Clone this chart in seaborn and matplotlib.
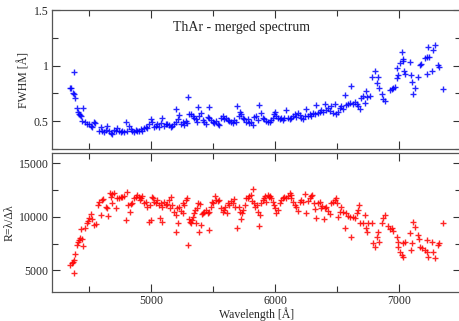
import matplotlib
matplotlib.use("Agg")
import matplotlib.pyplot as plt
from matplotlib.ticker import MultipleLocator, FuncFormatter
import seaborn as sns

# FWHM of ThAr lines (top panel)
fwhm_wave = [4349, 4357, 4376, 4370, 4378, 4384, 4403, 4411, 4416, 4424, 4432, 4438, 4454, 4470,
             4484, 4497, 4511, 4524, 4535, 4546, 4578, 4592, 4605, 4619, 4632, 4646, 4659, 4673,
             4686, 4700, 4713, 4727, 4740, 4753, 4767, 4780, 4794, 4807, 4821, 4834, 4848, 4861,
             4875, 4888, 4902, 4915, 4929, 4942, 4956, 4969, 4983, 4996, 5010, 5023, 5037, 5050,
             5064, 5077, 5091, 5104, 5118, 5131, 5145, 5158, 5172, 5185, 5199, 5204, 5220, 5226,
             5239, 5253, 5266, 5280, 5293, 5299, 5307, 5320, 5334, 5347, 5361, 5374, 5382, 5388,
             5401, 5415, 5428, 5442, 5455, 5463, 5469, 5482, 5496, 5509, 5523, 5536, 5550, 5563,
             5577, 5590, 5604, 5617, 5631, 5644, 5658, 5671, 5685, 5693, 5706, 5717, 5725, 5739,
             5752, 5766, 5779, 5793, 5806, 5820, 5833, 5847, 5860, 5874, 5887, 5901, 5914, 5928,
             5941, 5955, 5968, 5982, 5995, 6003, 6009, 6022, 6036, 6049, 6063, 6076, 6090, 6103,
             6117, 6130, 6144, 6157, 6171, 6184, 6198, 6211, 6225, 6238, 6246, 6265, 6279, 6292,
             6306, 6319, 6333, 6346, 6360, 6373, 6387, 6400, 6414, 6427, 6441, 6454, 6468, 6481,
             6495, 6508, 6522, 6535, 6549, 6562, 6576, 6589, 6603, 6616, 6630, 6643, 6657, 6670,
             6684, 6697, 6711, 6724, 6732, 6738, 6765, 6786, 6805, 6819, 6832, 6841, 6859, 6873,
             6886, 6927, 6940, 6954, 6967, 6981, 6986, 6994, 7008, 7021, 7029, 7034, 7040, 7048,
             7088, 7094, 7102, 7110, 7129, 7156, 7169, 7175, 7210, 7223, 7237, 7245, 7229, 7264,
             7277, 7291, 7318, 7326, 7353]
fwhm_vals = [0.801, 0.795, 0.941, 0.756, 0.747, 0.711, 0.616, 0.586, 0.569, 0.557, 0.548, 0.503,
             0.616, 0.497, 0.479, 0.473, 0.458, 0.444, 0.497, 0.488, 0.414, 0.452, 0.408, 0.399,
             0.420, 0.458, 0.414, 0.390, 0.384, 0.423, 0.408, 0.435, 0.408, 0.399, 0.414, 0.405,
             0.497, 0.414, 0.458, 0.429, 0.414, 0.405, 0.423, 0.414, 0.408, 0.429, 0.414, 0.435,
             0.449, 0.438, 0.473, 0.518, 0.497, 0.444, 0.458, 0.473, 0.449, 0.488, 0.533, 0.458,
             0.479, 0.473, 0.467, 0.449, 0.458, 0.479, 0.497, 0.607, 0.518, 0.554, 0.479, 0.497,
             0.467, 0.503, 0.488, 0.720, 0.563, 0.569, 0.548, 0.533, 0.518, 0.497, 0.628, 0.548,
             0.578, 0.509, 0.497, 0.479, 0.539, 0.628, 0.527, 0.509, 0.497, 0.488, 0.503, 0.479,
             0.467, 0.533, 0.548, 0.518, 0.533, 0.509, 0.503, 0.497, 0.488, 0.509, 0.497, 0.640,
             0.548, 0.586, 0.563, 0.533, 0.518, 0.497, 0.518, 0.488, 0.497, 0.467, 0.539, 0.548,
             0.509, 0.646, 0.578, 0.533, 0.518, 0.503, 0.497, 0.497, 0.509, 0.533, 0.563, 0.586,
             0.548, 0.527, 0.518, 0.533, 0.509, 0.527, 0.598, 0.533, 0.518, 0.527, 0.548, 0.563,
             0.539, 0.578, 0.557, 0.533, 0.518, 0.548, 0.607, 0.548, 0.563, 0.548, 0.578, 0.563,
             0.646, 0.578, 0.586, 0.598, 0.586, 0.658, 0.598, 0.616, 0.592, 0.637, 0.578, 0.652,
             0.569, 0.586, 0.622, 0.637, 0.607, 0.735, 0.646, 0.658, 0.667, 0.815, 0.658, 0.676,
             0.652, 0.637, 0.607, 0.711, 0.726, 0.667, 0.771, 0.717, 0.726, 0.896, 0.949, 0.845,
             0.896, 0.795, 0.741, 0.697, 0.682, 0.777, 0.786, 0.801, 0.807, 0.979, 0.890, 0.920,
             1.024, 1.122, 1.063, 1.039, 0.949, 0.926, 1.033, 0.920, 0.854, 0.747, 0.801, 0.896,
             1.009, 1.015, 1.068, 1.074, 1.164, 1.074, 0.926, 0.955, 1.143, 1.188, 1.003, 0.985,
             0.786]

# resolving power (bottom panel)
res_wave = [4349, 4362, 4370, 4376, 4381, 4389, 4403, 4411, 4416, 4424, 4432, 4438, 4451, 4470,
            4484, 4492, 4502, 4511, 4524, 4538, 4551, 4573, 4583, 4592, 4600, 4610, 4632, 4646,
            4654, 4664, 4673, 4681, 4686, 4700, 4713, 4727, 4740, 4753, 4767, 4780, 4794, 4807,
            4816, 4826, 4834, 4848, 4861, 4875, 4888, 4902, 4907, 4915, 4929, 4942, 4956, 4969,
            4983, 4991, 4999, 5010, 5018, 5026, 5037, 5050, 5064, 5069, 5077, 5086, 5091, 5104,
            5118, 5131, 5145, 5150, 5158, 5172, 5185, 5199, 5204, 5212, 5220, 5226, 5239, 5253,
            5258, 5266, 5280, 5293, 5299, 5307, 5312, 5320, 5329, 5334, 5347, 5356, 5361, 5369,
            5377, 5388, 5393, 5401, 5410, 5415, 5428, 5442, 5455, 5463, 5469, 5482, 5491, 5501,
            5512, 5523, 5536, 5550, 5563, 5577, 5590, 5598, 5609, 5617, 5631, 5644, 5658, 5671,
            5679, 5693, 5706, 5717, 5725, 5733, 5744, 5755, 5766, 5779, 5793, 5806, 5815, 5825,
            5833, 5841, 5852, 5863, 5874, 5879, 5887, 5901, 5914, 5922, 5928, 5941, 5950, 5960,
            5968, 5982, 5995, 6003, 6009, 6022, 6036, 6049, 6063, 6076, 6090, 6103, 6117, 6125,
            6130, 6144, 6157, 6171, 6184, 6198, 6211, 6225, 6238, 6252, 6265, 6279, 6292, 6301,
            6311, 6322, 6333, 6346, 6360, 6373, 6382, 6392, 6400, 6414, 6427, 6441, 6454, 6468,
            6481, 6490, 6500, 6508, 6522, 6535, 6549, 6562, 6576, 6589, 6603, 6616, 6630, 6643,
            6657, 6670, 6679, 6689, 6706, 6724, 6733, 6738, 6751, 6779, 6787, 6806, 6824, 6832,
            6841, 6859, 6873, 6886, 6913, 6927, 6940, 6954, 6981, 6988, 6994, 7012, 7021, 7029,
            7034, 7048, 7088, 7094, 7102, 7115, 7129, 7156, 7164, 7169, 7183, 7210, 7223, 7229,
            7237, 7264, 7277, 7291, 7318, 7326, 7353]
res_vals = [5505, 5662, 5817, 4727, 5973, 6534, 7375, 7686, 7842, 7998, 8839, 7904, 7281, 8932,
            9400, 9649, 9867, 10272, 9773, 9244, 9337, 11113, 11424, 10209, 11580, 11642, 10957,
            10801, 10085, 12265, 11891, 11268, 12141, 12265, 10801, 11736, 11736, 11891, 11891,
            11954, 9711, 12328, 11113, 10490, 11206, 11268, 11736, 11891, 12047, 11829, 11580,
            11736, 11954, 11268, 11424, 10957, 9555, 11113, 9711, 11891, 11736, 11424, 11268,
            11580, 11113, 9867, 11268, 9555, 10957, 11424, 11113, 11206, 11580, 10801, 11891,
            11113, 10490, 10178, 8621, 10801, 9462, 10957, 10583, 10334, 11268, 11113, 11580,
            11736, 7375, 9773, 9555, 9462, 9711, 10022, 10334, 10645, 9400, 10801, 11268, 8621,
            11206, 9244, 10272, 10334, 10490, 10645, 10334, 8777, 10490, 10957, 11424, 11268,
            11954, 11580, 11518, 11580, 10801, 10490, 10645, 10957, 10396, 11268, 11113, 11518,
            11331, 11642, 10957, 8932, 10895, 10490, 9773, 10334, 10645, 11113, 11736, 11736,
            11954, 12047, 11518, 12577, 11268, 10957, 11113, 10490, 9150, 10178, 11268, 11580,
            11736, 11954, 11424, 12047, 11891, 11954, 11736, 11424, 11113, 10801, 10334, 10645,
            11331, 11580, 11736, 11891, 11736, 11954, 12203, 12047, 11736, 11424, 11113, 10957,
            10583, 11424, 11580, 11424, 12141, 10334, 11518, 11736, 11954, 12047, 11268, 10708,
            9867, 11268, 11424, 10801, 11019, 9773, 10801, 10957, 10583, 10241, 11268, 11424,
            11580, 11736, 11268, 10022, 10490, 10895, 10490, 8932, 10334, 10085, 9960, 8154,
            10022, 9867, 10334, 10645, 11113, 9400, 9462, 10178, 8932, 8621, 9462, 9462, 7530,
            7219, 8154, 8621, 7686, 9400, 9867, 10178, 9150, 8839, 8932, 8714, 8091, 7686, 7219,
            6752, 6440, 6284, 7530, 7686, 8465, 6908, 7530, 9555, 9088, 8309, 7904, 7157, 7063,
            6908, 7842, 6752, 6222, 7686, 6752, 6129, 7375, 7530, 9400]

x_ticks = [5000, 6000, 7000]

sns.set_style("ticks")
plt.rcParams['font.family'] = ['Liberation Serif', 'DejaVu Serif']
plt.rcParams['font.size'] = 8.5

fig = plt.figure(figsize=(4.59, 3.21), dpi=100)
ax1 = fig.add_axes([0.1133, 0.5358, 0.8910, 0.4330])
ax2 = fig.add_axes([0.1133, 0.0913, 0.8910, 0.4330])

sns.scatterplot(x=fwhm_wave, y=fwhm_vals, marker='+', color='#0000ff', s=22,
                linewidth=1.0, alpha=0.85, ax=ax1)
sns.scatterplot(x=res_wave, y=res_vals, marker='+', color='#ff0000', s=22,
                linewidth=1.0, alpha=0.85, ax=ax2)

ax1.set_ylim(0.25, 1.5)
ax1.yaxis.set_major_locator(MultipleLocator(0.5))
ax1.yaxis.set_minor_locator(MultipleLocator(0.25))
ax1.yaxis.set_major_formatter(FuncFormatter(lambda v, p: '%g' % v))
ax1.set_ylabel('FWHM [Å]', labelpad=2)
ax1.tick_params(axis='x', labelbottom=False)
ax1.text(0.296, 0.85, 'ThAr - merged spectrum', transform=ax1.transAxes,
         fontsize=10, va='baseline', ha='left')

ax2.set_ylim(3000, 16000)
ax2.yaxis.set_major_locator(MultipleLocator(5000))
ax2.yaxis.set_minor_locator(MultipleLocator(2500))
ax2.set_ylabel('R=λ/Δλ', labelpad=2)
ax2.set_xlabel('Wavelength [Å]', labelpad=0)

for ax in (ax1, ax2):
    ax.set_xlim(4200, 7500)
    ax.set_xticks(x_ticks)
    ax.xaxis.set_minor_locator(MultipleLocator(500))
    ax.tick_params(which='both', direction='in', top=True, right=True,
                   color='#333333', width=0.8, pad=2.5)
    ax.tick_params(which='major', length=6)
    ax.tick_params(which='minor', length=4)
    for sp in ax.spines.values():
        sp.set_color('#555555')
        sp.set_linewidth(0.9)
    if ax.get_legend() is not None:
        ax.get_legend().remove()

fig.savefig('out.png', dpi=100)
